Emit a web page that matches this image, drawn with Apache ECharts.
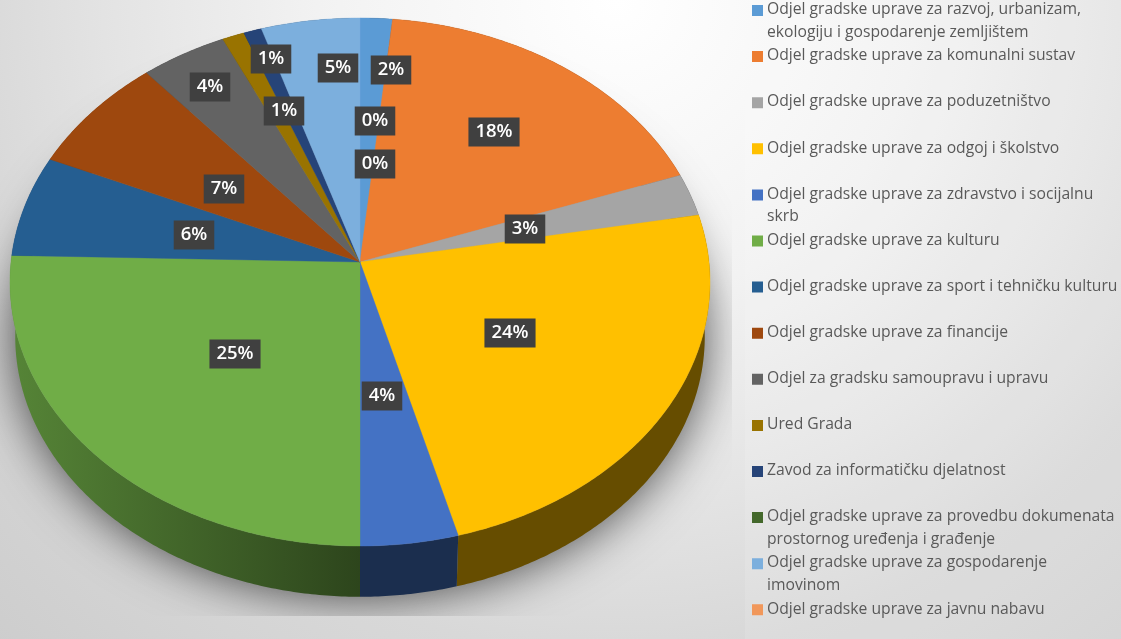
<!DOCTYPE html>
<html>
<head>
<meta charset="utf-8">
<style>
  html, body { margin: 0; padding: 0; background: #ddd; }
  #chart { width: 1121px; height: 639px; }
</style>
<script src="https://cdn.jsdelivr.net/npm/echarts@6/dist/echarts.min.js"></script>
</head>
<body>
<div id="chart"></div>
<script>
const categories = [
  'Odjel gradske uprave za razvoj, urbanizam,\nekologiju i gospodarenje zemljištem',
  'Odjel gradske uprave za komunalni sustav',
  'Odjel gradske uprave za poduzetništvo',
  'Odjel gradske uprave za odgoj i školstvo',
  'Odjel gradske uprave za zdravstvo i socijalnu\nskrb',
  'Odjel gradske uprave za kulturu',
  'Odjel gradske uprave za sport i tehničku kulturu',
  'Odjel gradske uprave za financije',
  'Odjel za gradsku samoupravu i upravu',
  'Ured Grada',
  'Zavod za informatičku djelatnost',
  'Odjel gradske uprave za provedbu dokumenata\nprostornog uređenja i građenje',
  'Odjel gradske uprave za gospodarenje\nimovinom',
  'Odjel gradske uprave za javnu nabavu'
]
// share of the total
const values = [1.6, 17.9, 2.6, 23.7, 4.2, 25.4, 6.2, 7.2, 4.3, 1.1, 0.9, 0, 4.9, 0]
const colors = ['#5B9BD5', '#ED7D31', '#A5A5A5', '#FFC000', '#4472C4', '#70AD47', '#255E91',
  '#9E480E', '#636363', '#997300', '#264478', '#43682B', '#7CAFDD', '#F1975A']
// label centre relative to the pie apex
const labelOffsets = [[31, -192], [134, -130], [165, -33], [150, 71], [22, 134], [-125, 92], [-166, -27],
  [-136, -73], [-150, -175], [-76, -151], [-89, -203], [15, -141], [-22, -194], [15, -98]]

const total = values.reduce((a, b) => a + b, 0)
const apexX = 360
const apexY = 262
const sideY = 317      // apex of the lower rim
const sideScale = 0.985
const persp = 0.0758

// circle in the pie's plane seen in perspective, theta clockwise from the top
function rimPoint(theta, cy, scale) {
  const w = 1 + persp * Math.cos(theta)
  return [
    apexX + scale * 349 * Math.sin(theta) / w,
    cy - scale * 262.5 * Math.cos(theta) / w
  ]
}

function rimPoints(a, b, cy, scale) {
  const pts = []
  const n = Math.max(2, Math.ceil((b - a) / 0.01))
  for (let i = 0; i <= n; i++) {
    pts.push(rimPoint(a + (b - a) * i / n, cy, scale))
  }
  return pts
}

function sliceAngles(index) {
  const before = values.slice(0, index).reduce((a, b) => a + b, 0)
  return [before / total * Math.PI * 2, (before + values[index]) / total * Math.PI * 2]
}

// the side wall gets lighter towards the left of the pie
function sideColor(color, theta) {
  const dark = 0.6 - 0.37 * Math.max(0, -Math.sin(theta))
  return echarts.color.lerp(dark, [color, '#000000'])
}

function renderSlice(index) {
  const [a, b] = sliceAngles(index)
  const color = colors[index]
  const children = []
  if (values[index] > 0) {
    const top = rimPoints(a, b, apexY, 1)
    const bottom = rimPoints(a, b, sideY, sideScale).reverse()
    children.push({
      type: 'polygon',
      z2: 1,
      shape: { points: top.concat(bottom) },
      style: {
        fill: new echarts.graphic.LinearGradient(0, 0, 1, 0, [
          { offset: 0, color: sideColor(color, b) },
          { offset: 1, color: sideColor(color, a) }
        ])
      }
    })
    children.push({
      type: 'polygon',
      z2: 2,
      shape: { points: [[apexX, apexY]].concat(top) },
      style: { fill: color, stroke: color, lineWidth: 0.4 }
    })
  }
  children.push({
    type: 'text',
    z2: 3,
    x: apexX + labelOffsets[index][0],
    y: apexY + labelOffsets[index][1],
    style: {
      text: Math.round(values[index] / total * 100) + '%',
      fill: '#fff',
      font: '600 18.5px "Open Sans"',
      align: 'center',
      verticalAlign: 'middle',
      backgroundColor: '#404040',
      padding: [5, 7, 5, 7],
      boxShadowBlur: 4,
      boxShadowOffsetX: 2,
      boxShadowOffsetY: 2,
      boxShadowColor: 'rgba(0,0,0,0.5)'
    }
  })
  return { type: 'group', children }
}

function renderShadow() {
  return {
    type: 'polygon',
    z2: 0,
    shape: { points: rimPoints(0, Math.PI * 2, sideY - 12, sideScale) },
    style: {
      fill: '#999',
      shadowBlur: 50,
      shadowColor: 'rgba(0,0,0,0.7)',
      shadowOffsetY: 12
    },
    clipPath: { type: 'rect', shape: { x: 0, y: 0, width: 732, height: 616 } }
  }
}

const series = [{
  name: 'shadow',
  type: 'custom',
  coordinateSystem: 'none',
  silent: true,
  data: [0],
  renderItem: renderShadow
}].concat(categories.map((name, i) => ({
  name,
  type: 'custom',
  coordinateSystem: 'none',
  silent: true,
  itemStyle: { color: colors[i] },
  data: [values[i]],
  renderItem: () => renderSlice(i)
})))

const chart = echarts.init(document.getElementById('chart'))
chart.setOption({
  animation: false,
  backgroundColor: {
    type: 'radial',
    x: 0.55,
    y: 0.0,
    r: 1.4,
    colorStops: [
      { offset: 0, color: '#ffffff' },
      { offset: 0.335, color: '#f2f2f2' },
      { offset: 0.56, color: '#e4e4e4' },
      { offset: 0.73, color: '#d8d8d8' },
      { offset: 1, color: '#cdcdcd' }
    ]
  },
  graphic: [{
    type: 'rect',
    z: -1,
    shape: { x: 745, y: 0, width: 376, height: 639 },
    style: { fill: 'rgba(255,255,255,0.12)' }
  }],
  legend: {
    data: categories,
    orient: 'vertical',
    left: 752,
    top: -2,
    height: 680,
    padding: 0,
    itemWidth: 11,
    itemHeight: 46,
    itemGap: 0.1,
    selectedMode: false,
    // swatch sits beside the first text line, not in the middle of the row
    icon: 'path://M0 7h11v11H0z M0 0h0z M11 46h0z',
    formatter: name => (name.includes('\n') ? name : name + '\n '),
    textStyle: {
      color: '#595959',
      fontFamily: 'Open Sans',
      fontSize: 15.7,
      lineHeight: 22.5,
      padding: [0, 0, 0, -1]
    }
  },
  series
})
window.addEventListener('resize', () => chart.resize())
</script>
</body>
</html>
